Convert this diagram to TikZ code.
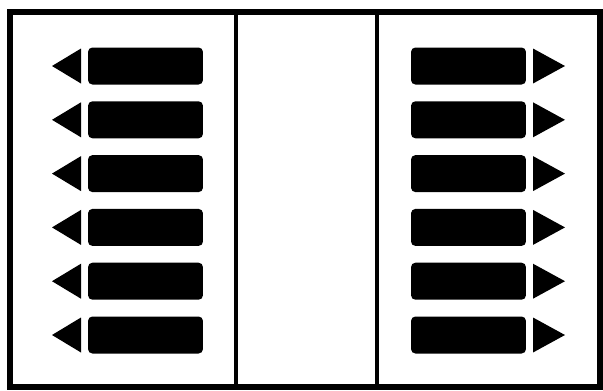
\documentclass[tikz,border=0pt]{standalone}
\usetikzlibrary{positioning}
\tikzset{
  frame/.style={draw=black, line width=3pt},
  divider/.style={draw=black, line width=2pt},
  bar/.style={fill=black, rounded corners=2.5pt, inner sep=0pt, minimum width=2.3cm, minimum height=0.74cm},
  tip/.style={fill=black},
}
\begin{document}
\begin{tikzpicture}[x=0.02cm, y=-0.02cm]
  \useasboundingbox (0,0) rectangle (603,390);
  % frame and the two dividers
  \draw[frame] (10,12) rectangle (600,387);
  \draw[divider] (236,12) -- (236,387);
  \draw[divider] (377,12) -- (377,387);
  % left column, pointing left
  \foreach \k in {1,...,6} {
    \pgfmathsetmacro{\y}{66+53.8*(\k-1)}
    \node[bar] (l\k) at (145.5,\y) {};
    \fill[tip] (81,\y-17.5) -- (52,\y) -- (81,\y+17.5) -- cycle;
  }
  % right column, pointing right
  \foreach \k in {1,...,6} {
    \pgfmathsetmacro{\y}{66+53.8*(\k-1)}
    \node[bar] (r\k) at (468.5,\y) {};
    \fill[tip] (533,\y-17.5) -- (565,\y) -- (533,\y+17.5) -- cycle;
  }
\end{tikzpicture}
\end{document}
